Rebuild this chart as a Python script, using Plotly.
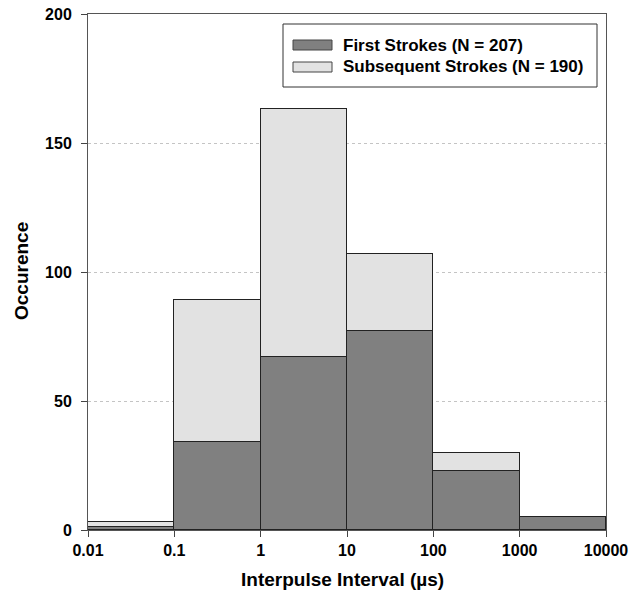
import plotly.graph_objects as go

# Interpulse interval bins (decades, in microseconds)
bin_edges = [0.01, 0.1, 1, 10, 100, 1000, 10000]
tick_labels = ["0.01", "0.1", "1", "10", "100", "1000", "10000"]
tick_exponents = [-2, -1, 0, 1, 2, 3, 4]
y_ticks = [0, 50, 100, 150, 200]

# Counts per decade bin
first_strokes = [1, 34, 67, 77, 23, 5]
subsequent_strokes = [2, 55, 96, 30, 7, 0]

series_names = ["First Strokes (N = 207)", "Subsequent Strokes (N = 190)"]
series_colors = ["#808080", "#e2e2e2"]

# bar centres on a log10 scale, one decade wide
centres = [e + 0.5 for e in tick_exponents[:-1]]

W, H = 631, 604
ML, MR, MT, MB = 88, 25, 14, 74
PW, PH = W - ML - MR, H - MT - MB


def px_x(px):
    return (px - ML) / PW


def px_y(py):
    return (H - MB - py) / PH


fig = go.Figure()
for vals, name, col in zip([first_strokes, subsequent_strokes], series_names, series_colors):
    fig.add_trace(go.Bar(
        x=centres, y=vals, width=1, name=name,
        marker=dict(color=col, line=dict(color="#222222", width=1)),
        showlegend=False,
    ))

font_family = "Liberation Sans, Arial, sans-serif"

# boxed legend in the upper right, with wide swatches
shapes = [dict(
    type="rect", xref="paper", yref="paper",
    x0=px_x(283), x1=px_x(597), y0=px_y(87), y1=px_y(24),
    fillcolor="white", line=dict(color="#333333", width=1), layer="above",
)]
annotations = []
for i, (name, col) in enumerate(zip(series_names, series_colors)):
    cy = 45 + 22 * i
    shapes.append(dict(
        type="rect", xref="paper", yref="paper",
        x0=px_x(293), x1=px_x(332), y0=px_y(cy + 5), y1=px_y(cy - 5),
        fillcolor=col, line=dict(color="#444444", width=1), layer="above",
    ))
    annotations.append(dict(
        text=name, xref="paper", yref="paper", x=px_x(341), y=px_y(cy),
        xanchor="left", yanchor="middle", showarrow=False,
        font=dict(size=17, family=font_family, color="black", weight="bold"),
    ))

# axis titles
annotations.append(dict(
    text="Interpulse Interval (µs)", xref="paper", yref="paper",
    x=px_x(342), y=px_y(579), xanchor="center", yanchor="middle", showarrow=False,
    font=dict(size=19, family=font_family, color="black", weight="bold"),
))
annotations.append(dict(
    text="Occurence", xref="paper", yref="paper", textangle=-90,
    x=px_x(21), y=px_y(271), xanchor="center", yanchor="middle", showarrow=False,
    font=dict(size=19, family=font_family, color="black", weight="bold"),
))

fig.update_layout(
    width=W, height=H,
    barmode="stack",
    bargap=0,
    plot_bgcolor="white",
    paper_bgcolor="white",
    margin=dict(l=ML, r=MR, t=MT, b=MB, autoexpand=False),
    font=dict(family=font_family, size=16, color="black"),
    showlegend=False,
    shapes=shapes,
    annotations=annotations,
)

fig.update_xaxes(
    range=[-2, 4], automargin=False,
    tickvals=tick_exponents, ticktext=tick_labels,
    tickfont=dict(size=16, weight="bold"),
    ticks="outside", ticklen=6, tickcolor="#444444",
    showline=True, linecolor="#555555", linewidth=1, mirror=True,
    showgrid=False, zeroline=False,
)
fig.update_yaxes(
    range=[0, 200], automargin=False,
    tickvals=y_ticks,
    tickfont=dict(size=16, weight="bold"),
    ticks="outside", ticklen=6, tickcolor="#444444",
    ticklabelstandoff=6,
    showline=True, linecolor="#555555", linewidth=1, mirror=True,
    showgrid=True, gridcolor="#c4c4c4", griddash="dot", gridwidth=1,
    zeroline=False,
)

fig.write_html("out.html")
